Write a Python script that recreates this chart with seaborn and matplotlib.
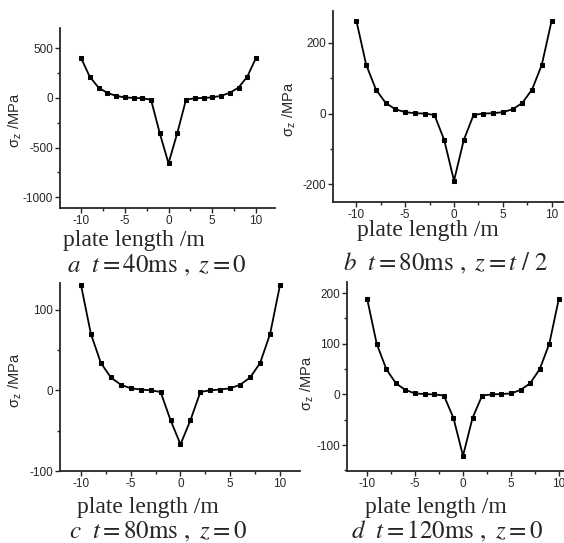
import pandas as pd
import matplotlib
import matplotlib.pyplot as plt
from matplotlib.ticker import AutoMinorLocator
import seaborn as sns

# data
plate_x = list(range(-10, 11))
stress_a = [405, 215, 105, 52, 22, 6, 1, -3, -17, -355, -660, -355, -17, -3, 1, 6, 22, 52, 105, 215, 405]
stress_b = [262, 138, 68, 30, 12, 4, 1, 0, -4, -75, -190, -75, -4, 0, 1, 4, 12, 30, 68, 138, 262]
stress_c = [131, 70, 34, 16, 7, 2.5, 1, 0, -2, -37, -67, -37, -2, 0, 1, 2.5, 7, 16, 34, 70, 131]
stress_d = [189, 100, 50, 22, 9, 2, 1, 0, -2, -46, -121, -46, -2, 0, 1, 2, 9, 22, 50, 100, 189]

yticks_a = [-1000, -500, 0, 500]
yticks_b = [-200, 0, 200]
yticks_c = [-100, 0, 100]
yticks_d = [-100, 0, 100, 200]
xticks = [-10, -5, 0, 5, 10]

captions = [r"$a\ \ t=40\mathrm{ms}\ ,\ z=0$",
            r"$b\ \ t=80\mathrm{ms}\ ,\ z=t\ /\ 2$",
            r"$c\ \ t=80\mathrm{ms}\ ,\ z=0$",
            r"$d\ \ t=120\mathrm{ms}\ ,\ z=0$"]

sns.set_style("ticks")
plt.rcParams['font.family'] = ['Liberation Sans', 'DejaVu Sans']
plt.rcParams['mathtext.fontset'] = 'stix'
plt.rcParams['axes.unicode_minus'] = False

W, H = 564, 543
fig = plt.figure(figsize=(W / 100, H / 100), dpi=100)


def px_axes(left, right, top, bottom):
    return fig.add_axes([left / W, 1 - bottom / H, (right - left) / W, (bottom - top) / H])


# panel layout in pixels: box, xlim, ylim, ylabel centre, xlabel baseline, caption baseline
panels = [
    (stress_a, yticks_a, (60, 275, 28, 208), (-12.4, 12.17), (-1111, 707), (15, 120), (134, 246), (157, 272)),
    (stress_b, yticks_b, (333, 575, 11, 202), (-12.4, 12.4), (-250, 290), (289, 109), (428, 236), (446, 270)),
    (stress_c, yticks_c, (60, 300, 283, 471), (-12.1, 12.0), (-100, 133), (15, 380), (148, 513), (158, 538)),
    (stress_d, yticks_d, (347, 579, 282, 471), (-12.1, 12.1), (-151, 222), (307, 383), (436, 513), (447, 538)),
]

for (vals, yt, box, xl, yl, ylab, xlab, cap), caption in zip(panels, captions):
    ax = px_axes(*box)
    df = pd.DataFrame({'x': plate_x, 'y': vals})
    sns.lineplot(data=df, x='x', y='y', ax=ax, color='black', linewidth=1.3,
                 marker='s', markersize=3.2, markeredgecolor='black')
    ax.set_xlim(*xl)
    ax.set_ylim(*yl)
    ax.set_xticks(xticks)
    ax.set_yticks(yt)
    ax.xaxis.set_minor_locator(AutoMinorLocator(2))
    ax.yaxis.set_minor_locator(AutoMinorLocator(2))
    ax.tick_params(which='major', direction='out', length=3.5, width=1, labelsize=8.5, pad=1.5)
    ax.tick_params(which='minor', direction='out', length=2, width=1)
    for s in ['top', 'right']:
        ax.spines[s].set_visible(False)
    for s in ['left', 'bottom']:
        ax.spines[s].set_linewidth(1.3)
    ax.set_xlabel('')
    ax.set_ylabel('')
    fig.text(ylab[0] / W, 1 - ylab[1] / H, r"σ$_\mathregular{z}$ /MPa", rotation=90,
             ha='center', va='center', fontsize=10.5)
    fig.text(xlab[0] / W, 1 - xlab[1] / H, 'plate length /m', family='Liberation Serif',
             fontsize=17, ha='center', va='baseline')
    fig.text(cap[0] / W, 1 - cap[1] / H, caption, fontsize=18, ha='center', va='baseline')

fig.savefig('out.png', dpi=100)
